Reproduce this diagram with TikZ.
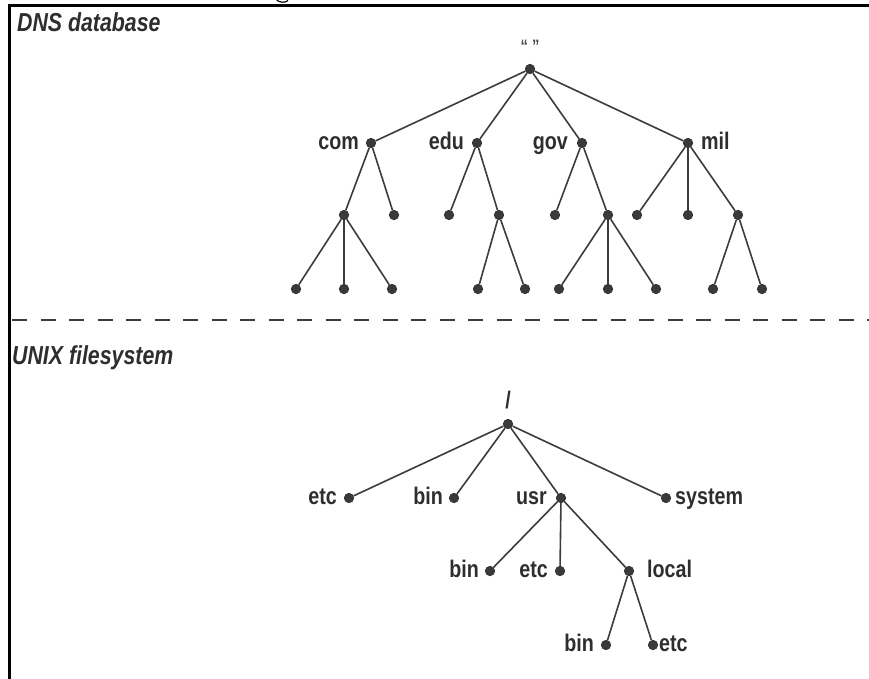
\documentclass[tikz,border=0pt]{standalone}
\usepackage{fontspec}
\setmainfont{Liberation Sans}[FakeStretch=0.82]
\definecolor{dotgray}{HTML}{3A3A3A}
\definecolor{linegray}{HTML}{3C3C3C}
\definecolor{textgray}{HTML}{2E2E2E}
\tikzset{
  dot/.style={circle, fill=dotgray, draw=dotgray!70!black, line width=0.6pt, inner sep=0pt, minimum size=9.5pt},
  edge/.style={draw=linegray, line width=1.6pt},
  lbl/.style={font=\fontsize{24}{28}\selectfont\bfseries, text=textgray, inner sep=0pt},
  ttl/.style={font=\fontsize{26}{30}\selectfont\bfseries\itshape, text=textgray, inner sep=0pt, anchor=base west},
}
\begin{document}
\begin{tikzpicture}[x=1pt,y=-1pt]
\useasboundingbox (0,0) rectangle (869,678);
\fill[white] (0,0) rectangle (869,678);
% fragment of the caption's letter above the frame
\draw[line width=1.2pt] (276,-1) .. controls (278,3) and (286,3) .. (288,0.5);
% frame
\draw[line width=2.7pt, line cap=rect] (9.7,678) -- (9.7,5.3) -- (869,5.3);
% titles
\node[ttl] (tdns) at (17,31) {DNS database};
\node[ttl] (tunix) at (12,364) {UNIX filesystem};
% dashed separator
\draw[linegray, line width=2pt, dash pattern=on 15pt off 13.5pt] (12,320) -- (869,320);

% ---- DNS tree ----
\node[dot] (r) at (530,69) {};
\node[font=\fontsize{18}{20}\selectfont\bfseries, text=textgray!85, inner sep=0pt] (rq) at (530,46) {“ ”};
\node[dot] (com) at (371,143) {};
\node[dot] (edu) at (477,143) {};
\node[dot] (gov) at (582,143) {};
\node[dot] (mil) at (688,143) {};
\node[dot] (c1) at (344,215) {};
\node[dot] (c2) at (394,215) {};
\node[dot] (e1) at (449,215) {};
\node[dot] (e2) at (499,215) {};
\node[dot] (g1) at (555,215) {};
\node[dot] (g2) at (608,215) {};
\node[dot] (m1) at (637,215) {};
\node[dot] (m2) at (688,215) {};
\node[dot] (m3) at (738,215) {};
\node[dot] (c11) at (296,289) {};
\node[dot] (c12) at (344,289) {};
\node[dot] (c13) at (392,289) {};
\node[dot] (e21) at (478,289) {};
\node[dot] (e22) at (525,289) {};
\node[dot] (g21) at (559,289) {};
\node[dot] (g22) at (608,289) {};
\node[dot] (g23) at (656,289) {};
\node[dot] (m31) at (713,289) {};
\node[dot] (m32) at (762,289) {};

\node[lbl, anchor=base east] (lcom) at ([xshift=-12pt,yshift=-6pt]com.center) {com};
\node[lbl, anchor=base east] (ledu) at ([xshift=-13pt,yshift=-6pt]edu.center) {edu};
\node[lbl, anchor=base east] (lgov) at ([xshift=-14pt,yshift=-6pt]gov.center) {gov};
\node[lbl, anchor=base west] (lmil) at ([xshift=13pt,yshift=-6pt]mil.center) {mil};

\foreach \a/\b in {r/com,r/edu,r/gov,r/mil,
  com/c1,com/c2,edu/e1,edu/e2,gov/g1,gov/g2,mil/m1,mil/m2,mil/m3,
  c1/c11,c1/c12,c1/c13,e2/e21,e2/e22,g2/g21,g2/g22,g2/g23,m3/m31,m3/m32}
  \draw[edge] (\a) -- (\b);

% ---- UNIX tree ----
\node[lbl] (lroot) at (508,400) {/};
\node[dot] (u) at (508,424) {};
\node[dot] (etc) at (349,498) {};
\node[dot] (bin) at (454,498) {};
\node[dot] (usr) at (561,498) {};
\node[dot] (sys) at (666,498) {};
\node[dot] (ubin) at (490,571) {};
\node[dot] (uetc) at (560,571) {};
\node[dot] (loc) at (629,571) {};
\node[dot] (lbin) at (606,645) {};
\node[dot] (letc) at (653,645) {};

\node[lbl, anchor=base east] (tetc) at ([xshift=-12pt,yshift=-6pt]etc.center) {etc};
\node[lbl, anchor=base east] (tbin) at ([xshift=-11pt,yshift=-6pt]bin.center) {bin};
\node[lbl, anchor=base east] (tusr) at ([xshift=-14pt,yshift=-6pt]usr.center) {usr};
\node[lbl, anchor=base west] (tsys) at ([xshift=9pt,yshift=-6pt]sys.center) {system};
\node[lbl, anchor=base east] (tubin) at ([xshift=-11pt,yshift=-6pt]ubin.center) {bin};
\node[lbl, anchor=base east] (tuetc) at ([xshift=-12pt,yshift=-6pt]uetc.center) {etc};
\node[lbl, anchor=base west] (tloc) at ([xshift=18pt,yshift=-6pt]loc.center) {local};
\node[lbl, anchor=base east] (tlbin) at ([xshift=-12pt,yshift=-6pt]lbin.center) {bin};
\node[lbl, anchor=base west] (tletc) at ([xshift=6pt,yshift=-6pt]letc.center) {etc};

\foreach \a/\b in {u/etc,u/bin,u/usr,u/sys,usr/ubin,usr/uetc,usr/loc,loc/lbin,loc/letc}
  \draw[edge] (\a) -- (\b);
\end{tikzpicture}
\end{document}
